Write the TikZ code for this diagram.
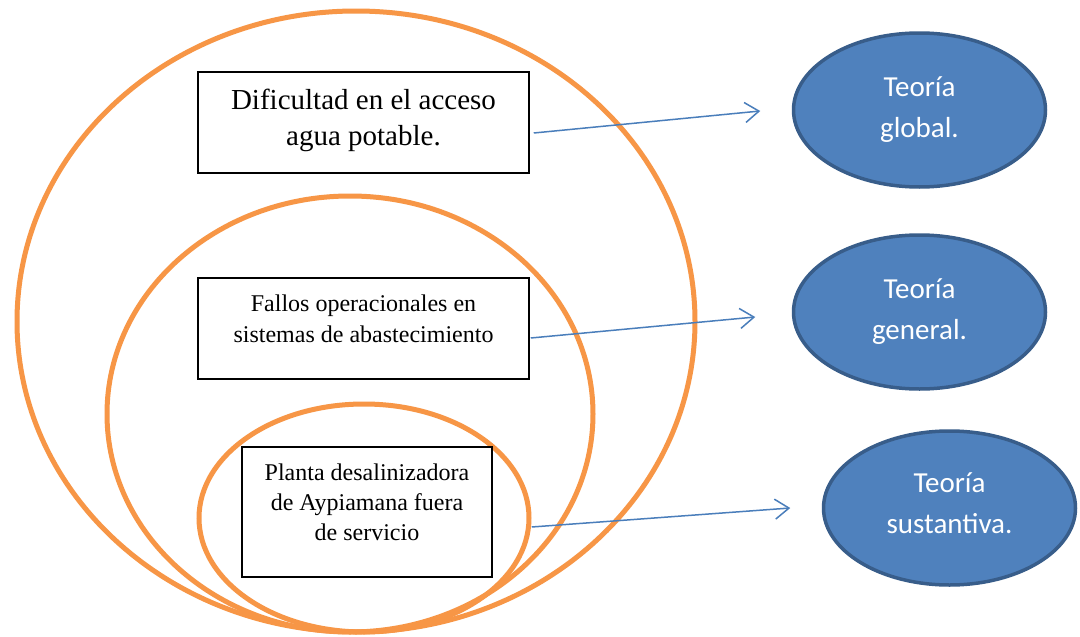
\documentclass[tikz,border=0pt]{standalone}
\usepackage{fontspec}
\setmainfont{Liberation Serif}
\newfontfamily\calibri{Carlito}
\usetikzlibrary{shapes.geometric,arrows.meta,calc}
\definecolor{orng}{HTML}{F79646}
\definecolor{bluefill}{HTML}{4F81BD}
\definecolor{blueedge}{HTML}{385D8A}
\definecolor{arrowblue}{HTML}{4A7EBB}
\tikzset{
  circ/.style={draw=orng, line width=5pt},
  box/.style={draw=black, line width=1.5pt, fill=white, align=center, inner sep=0pt},
  theory/.style={ellipse, draw=blueedge, line width=3.5pt, fill=bluefill, text=white,
    align=center, font=\calibri\fontsize{29}{41}\selectfont,
    minimum width=252pt, minimum height=154pt, inner sep=0pt},
  conn/.style={draw=arrowblue, line width=1.5pt,
    -{Straight Barb[length=14pt,width=20pt]}}
}
\begin{document}
\begin{tikzpicture}[x=1pt,y=-1pt]
\fill[white] (0,0) rectangle (1080,637);
\useasboundingbox (0,0) rectangle (1080,637);
% nested orange ellipses
\draw[circ] (356,321.5) ellipse [x radius=339pt, y radius=310.5pt];
\draw[circ] (350,414) ellipse [x radius=243pt, y radius=218pt];
\draw[circ] (364,518) ellipse [x radius=165pt, y radius=114pt];
% boxes
\node[box, minimum width=331pt, minimum height=101pt, font=\fontsize{29}{36}\selectfont, text depth=10pt]
  (b1) at (363.5,122.5) {Dificultad en el acceso\\agua potable.};
\node[box, minimum width=331pt, minimum height=101pt, font=\fontsize{24}{31}\selectfont, text depth=20pt]
  (b2) at (363.5,328.5) {Fallos operacionales en\\sistemas de abastecimiento};
\node[box, minimum width=250pt, minimum height=130pt, font=\fontsize{24}{30}\selectfont, text depth=20pt]
  (b3) at (367,512) {Planta desalinizadora\\de Aypiamana fuera\\de servicio};
% theory ellipses
\node[theory] (e1) at (919.5,110) {Teoría\\global.};
\node[theory] (e2) at (919.5,312) {Teoría\\general.};
\node[theory, text depth=9pt] (e3) at (949.5,508) {Teoría\\sustantiva.};
% connector end points
\coordinate (a1s) at ([xshift=4pt,yshift=-10.5pt]b1.east);
\coordinate (a1e) at ([xshift=-31.5pt,yshift=-1pt]e1.west);
\coordinate (a2s) at ([xshift=1pt,yshift=-9.5pt]b2.east);
\coordinate (a2e) at ([xshift=-36.5pt,yshift=-5pt]e2.west);
\coordinate (a3s) at ([xshift=39pt,yshift=-15pt]b3.east);
\coordinate (a3e) at ([xshift=-31.5pt,yshift=0pt]e3.west);
\draw[conn] (a1s) -- (a1e);
\draw[conn] (a2s) -- (a2e);
\draw[conn] (a3s) -- (a3e);
\end{tikzpicture}
\end{document}
